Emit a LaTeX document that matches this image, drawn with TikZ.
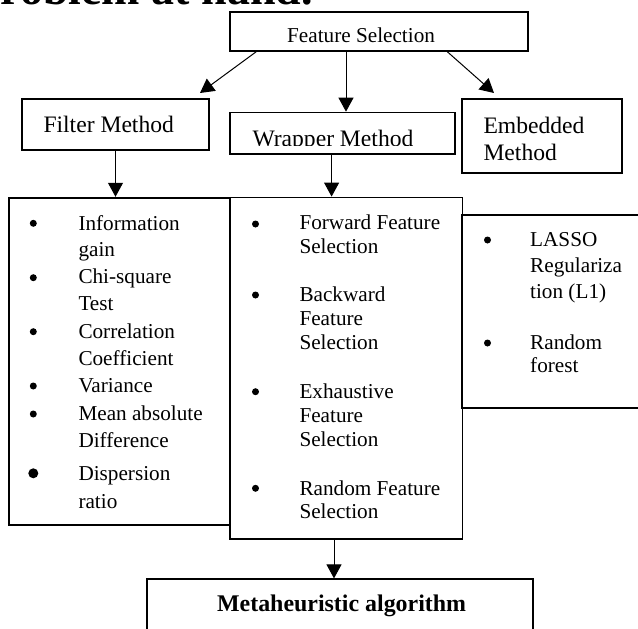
\documentclass[tikz,border=0pt]{standalone}
\usepackage{fontspec}
\setmainfont{Liberation Serif}
\usetikzlibrary{arrows.meta}

\tikzset{
	box/.style={draw, line width=1.8pt, inner sep=0pt},
	arr/.style={line width=1pt, -{Triangle[width=15pt,length=14pt]}},
	head/.style={anchor=base west, inner sep=0pt, font=\fontsize{23.6}{27.4}\selectfont},
	item/.style={anchor=base west, inner sep=0pt, font=\fontsize{21.2}{25}\selectfont},
}

\begin{document}
\begin{tikzpicture}[x=1pt,y=-1pt]
	\useasboundingbox (0,0) rectangle (638,629);
	\node[anchor=base east, inner sep=0pt, font=\bfseries\fontsize{46}{50}\selectfont] (cut) at (313,5) {roblem at hand.};
	\node[box, minimum width=298pt, minimum height=39pt] (fs) at (379,31.5) {};
	\node[box, minimum width=187.6pt, minimum height=50.7pt] (filter) at (115.5,124.7) {};
	\node[box, minimum width=225pt, minimum height=41.3pt] (wrapper) at (342.5,133.2) {};
	\node[box, minimum width=159.4pt, minimum height=74pt] (embedded) at (542,136.3) {};
	\node[box, minimum width=220.3pt, minimum height=327pt] (flist) at (119.5,361.2) {};
	\node[box, minimum width=232.5pt, minimum height=341.8pt] (wlist) at (346.2,368.4) {};
	\node[box, minimum width=200pt, minimum height=193pt] (elist) at (561.5,311.5) {};
	\node[box, minimum width=385.7pt, minimum height=70pt] (meta) at (340.2,614.3) {};
	\node[item] (fstext) at (287,42.3) {Feature Selection};
	\node[head] (ftext) at (43.3,132.7) {Filter Method};
	\begin{scope}
		\clip (wrapper.north west) rectangle (455,145);
		\node[head] (wtext) at (252.3,146) {Wrapper Method};
	\end{scope}
	\node[head] (etext1) at (483.3,133.3) {Embedded};
	\node[head] (etext2) at (483.3,160.7) {Method};
	\node[anchor=base, inner sep=0pt, font=\bfseries\fontsize{23.9}{28}\selectfont] (mtext) at (341.6,611.7) {Metaheuristic algorithm};
	\foreach \y/\t [count=\i] in {230/Information, 256.5/gain, 283.3/Chi-square, 310/Test, 338.3/Correlation, 365/Coefficient, 392.3/Variance, 420/Mean absolute, 447.3/Difference, 480/Dispersion, 508.3/ratio}
		\node[item] (fl\i) at (78.3,\y) {\t};
	\foreach \y in {223.3, 277.7, 331.7, 386, 414}
		\fill (33.3,\y) circle (3.5pt);
	\fill (33.3,473.3) circle (5pt);
	\foreach \y/\t [count=\i] in {229.3/Forward Feature, 253.3/Selection, 301/Backward, 325/Feature, 349.3/Selection, 398.3/Exhaustive, 422.5/Feature, 446.7/Selection, 495/Random Feature, 518.3/Selection}
		\node[item] (wl\i) at (299.3,\y) {\t};
	\foreach \y in {224, 295, 391.7, 488.3}
		\fill (255.5,\y) circle (3.5pt);
	\foreach \y/\t [count=\i] in {246/LASSO, 272/Regulariza, 298/tion (L1), 349/Random, 372/forest}
		\node[item] (el\i) at (530,\y) {\t};
	\foreach \y in {240, 343}
		\fill (487.5,\y) circle (3.5pt);
	\coordinate (T1) at (200,93);
	\coordinate (T2) at (494,93);
	\coordinate (C1) at (256,0);
	\coordinate (C2) at (346,0);
	\coordinate (C3) at (447.5,0);
	\coordinate (C4) at (331.6,0);
	\coordinate (C5) at (334,0);
	\draw[arr] (fs.south -| C1) -- (T1);
	\draw[arr] (fs.south -| C2) -- (wrapper.north -| C2);
	\draw[arr] (fs.south -| C3) -- (T2);
	\draw[arr] (filter.south) -- (filter.south |- flist.north);
	\draw[arr] (wrapper.south -| C4) -- (wlist.north -| C4);
	\draw[arr] (wlist.south -| C5) -- (meta.north -| C5);
\end{tikzpicture}
\end{document}
